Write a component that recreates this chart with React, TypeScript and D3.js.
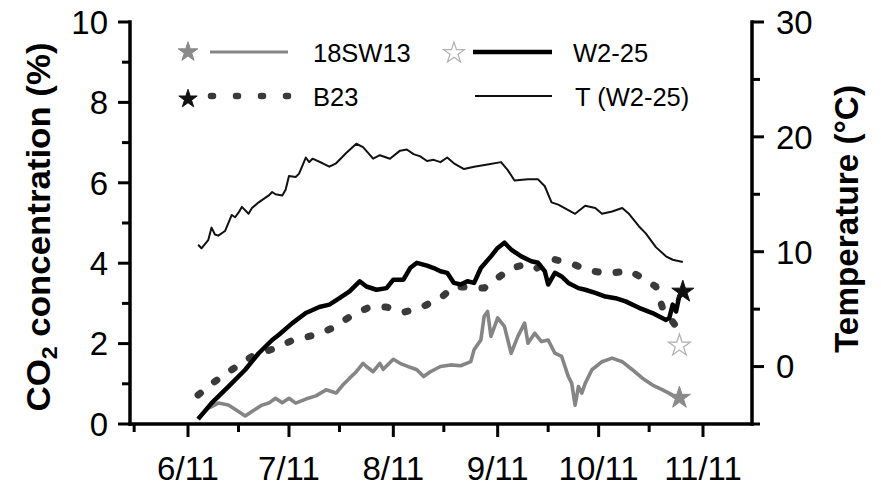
import React from 'react';
import * as d3 from 'd3';

// ---- axis ticks ----
const xTickDates = ['06-11', '07-11', '08-11', '09-11', '10-11', '11-11'];
const xTickLabels = ['6/11', '7/11', '8/11', '9/11', '10/11', '11/11'];
const xMinorDates = ['05-26', '06-26', '07-26', '08-26', '09-26', '10-26'];
const yLeftTicks = [0, 2, 4, 6, 8, 10];
const yLeftMinor = [1, 3, 5, 7, 9];
const yRightTicks = [0, 10, 20, 30];
const yRightMinor = [-5, 5, 15, 25];

// ---- series: 18SW13 (CO2 %) ----
const sw13Dates = ['06-14','06-17','06-20','06-23','06-26','06-28','06-30','07-03','07-05','07-07','07-09','07-11','07-13','07-16','07-19','07-22','07-25','07-27','07-29','07-31','08-02','08-03','08-05','08-07','08-08','08-11','08-13','08-16','08-18','08-20','08-22','08-25','08-28','08-31','09-03','09-04','09-06','09-07','09-08','09-09','09-11','09-13','09-15','09-17','09-19','09-20','09-22','09-24','09-26','09-28','09-30','10-02','10-03','10-04','10-05','10-06','10-07','10-09','10-12','10-15','10-18','10-21','10-24','10-27','10-30','11-02'];
const sw13Values = [0.14,0.39,0.52,0.47,0.31,0.2,0.31,0.47,0.52,0.64,0.53,0.64,0.52,0.62,0.7,0.85,0.77,0.97,1.14,1.3,1.51,1.43,1.3,1.51,1.36,1.61,1.51,1.41,1.35,1.18,1.3,1.43,1.47,1.45,1.55,1.85,2.09,2.68,2.8,2.18,2.64,2.43,1.76,2.18,2.51,2.01,2.26,2.05,2.09,1.76,1.68,1.18,1.01,0.47,0.93,0.77,1.01,1.35,1.55,1.64,1.55,1.35,1.14,0.97,0.85,0.72];

// ---- series: W2-25 (CO2 %) ----
const w225Dates = ['06-14','06-18','06-23','06-28','07-02','07-06','07-08','07-12','07-16','07-20','07-23','07-26','07-29','08-01','08-03','08-06','08-09','08-11','08-14','08-16','08-18','08-21','08-23','08-25','08-27','08-29','08-31','09-02','09-04','09-06','09-09','09-11','09-13','09-15','09-18','09-21','09-23','09-25','09-26','09-28','09-30','10-02','10-05','10-07','10-10','10-13','10-16','10-19','10-23','10-27','10-31','11-01','11-02','11-03','11-04'];
const w225Values = [0.12,0.52,0.93,1.35,1.76,2.09,2.22,2.51,2.76,2.91,2.97,3.13,3.3,3.55,3.42,3.34,3.38,3.59,3.59,3.88,4.01,3.94,3.88,3.8,3.76,3.51,3.47,3.55,3.51,3.88,4.17,4.38,4.51,4.34,4.17,4.05,4.01,3.8,3.47,3.76,3.67,3.51,3.38,3.34,3.26,3.17,3.13,3.05,2.89,2.76,2.59,2.64,2.97,2.8,3.2];

// ---- series: B23 (CO2 %) ----
const b23Dates = ['06-14','06-18','06-24','06-30','07-07','07-12','07-19','07-24','07-30','08-04','08-09','08-14','08-19','08-25','08-29','09-07','09-11','09-15','09-18','09-22','09-27','10-03','10-08','10-14','10-20','10-24','10-28','10-30','11-03'];
const b23Values = [0.72,1.0,1.35,1.68,1.89,2.08,2.22,2.39,2.72,2.91,2.91,2.78,2.89,3.13,3.42,3.38,3.63,3.88,3.94,3.84,4.11,3.99,3.82,3.74,3.82,3.63,3.42,2.88,2.43];

// ---- series: T (W2-25) (°C) ----
const tDates = ['06-14','06-15','06-17','06-18','06-19','06-20','06-22','06-24','06-25','06-26','06-27','06-29','06-30','07-02','07-05','07-06','07-07','07-09','07-10','07-11','07-13','07-14','07-15','07-16','07-17','07-18','07-21','07-23','07-25','07-28','07-31','08-02','08-05','08-07','08-10','08-13','08-15','08-17','08-19','08-21','08-23','08-25','08-27','08-29','09-01','09-04','09-08','09-12','09-14','09-16','09-20','09-23','09-25','09-27','09-29','10-04','10-07','10-10','10-12','10-15','10-18','10-20','10-23','10-25','10-28','10-31','11-02','11-05'];
const tValues = [10.6,10.3,11.0,12.1,11.5,11.4,11.8,13.2,13.0,13.4,13.9,13.3,13.8,14.3,14.9,15.2,15.0,14.9,15.4,16.6,16.5,16.8,17.5,18.2,17.8,18.1,17.7,17.4,17.7,18.6,19.4,19.1,18.1,18.4,18.1,18.8,18.9,18.5,18.3,17.9,18.0,17.8,18.2,17.7,17.2,17.4,17.6,17.8,17.1,16.2,16.3,16.3,15.7,14.3,14.1,13.3,14.0,13.8,13.3,13.5,13.8,13.3,12.2,11.6,10.4,9.6,9.3,9.1];

// ---- end-point stars ----
const starSeries = ['18SW13', 'W2-25', 'B23'];
const starDates = ['11-04', '11-04', '11-05'];
const starValues = [0.65, 1.95, 3.29];

const parse = (s: string) => d3.timeParse('%Y-%m-%d')('2011-' + s) as Date;
const zip = (ds: string[], vs: number[]) => ds.map((d, i) => [parse(d), vs[i]] as [Date, number]);

const FONT = '"Liberation Sans", Arial, Helvetica, sans-serif';

export default function App() {
  const W = 881, H = 486;
  const xL = 130, xR = 752, yB = 424, yT = 22;
  const x = d3.scaleTime().domain([parse('06-11'), parse('11-11')]).range([188, 703]);
  const yL = d3.scaleLinear().domain([0, 10]).range([yB, yT]);
  const yR = d3.scaleLinear().domain([-5, 30]).range([yB, yT]);

  const lineL = d3.line<[Date, number]>().x(d => x(d[0])).y(d => yL(d[1]));
  const lineR = d3.line<[Date, number]>().x(d => x(d[0])).y(d => yR(d[1]));

  const starPath = (size: number) => d3.symbol(d3.symbolStar, size)() as string;

  const starStyle: Record<string, any> = {
    '18SW13': { fill: '#8a8a8a', stroke: '#8a8a8a', strokeWidth: 1 },
    'W2-25': { fill: '#ffffff', stroke: '#b0b0b0', strokeWidth: 1.2 },
    'B23': { fill: '#111111', stroke: '#111111', strokeWidth: 1 },
  };

  const axisW = 3.5;

  return (
    <svg width={W} height={H} style={{ position: 'absolute', left: 0, top: 0, background: '#fff' }} fontFamily={FONT}>
      <rect x={0} y={0} width={W} height={H} fill="#fff" />

      {/* data lines */}
      <path d={lineR(zip(tDates, tValues)) as string} fill="none" stroke="#111" strokeWidth={2} strokeLinejoin="round" />
      <path d={lineL(zip(sw13Dates, sw13Values)) as string} fill="none" stroke="#858585" strokeWidth={3.6} strokeLinejoin="round" />
      <path d={lineL(zip(b23Dates, b23Values)) as string} fill="none" stroke="#3a3a3a" strokeWidth={7} strokeDasharray="3 18" strokeLinecap="round" strokeLinejoin="round" />
      <path d={lineL(zip(w225Dates, w225Values)) as string} fill="none" stroke="#000" strokeWidth={4.5} strokeLinejoin="round" />

      {/* stars */}
      {starSeries.map((s, i) => (
        <path key={s} d={starPath(150)} transform={`translate(${x(parse(starDates[i]))},${yL(starValues[i])})`} {...starStyle[s]} />
      ))}

      {/* axes lines */}
      <line x1={xL} x2={xL} y1={yT} y2={yB} stroke="#000" strokeWidth={axisW} strokeLinecap="square" />
      <line x1={xR} x2={xR} y1={yT} y2={yB} stroke="#000" strokeWidth={axisW} strokeLinecap="square" />
      <line x1={xL} x2={xR} y1={yB} y2={yB} stroke="#000" strokeWidth={axisW} strokeLinecap="square" />

      {/* left ticks */}
      {yLeftTicks.map(v => (
        <g key={'l' + v}>
          <line x1={xL - 12} x2={xL} y1={yL(v)} y2={yL(v)} stroke="#000" strokeWidth={3} />
          <text x={108} y={yL(v)} dy="0.36em" textAnchor="end" fontSize={33}>{v}</text>
        </g>
      ))}
      {yLeftMinor.map(v => (
        <line key={'lm' + v} x1={xL - 8} x2={xL} y1={yL(v)} y2={yL(v)} stroke="#000" strokeWidth={3} />
      ))}

      {/* right ticks */}
      {yRightTicks.map(v => (
        <g key={'r' + v}>
          <line x1={xR} x2={xR + 12} y1={yR(v)} y2={yR(v)} stroke="#000" strokeWidth={3} />
          <text x={776} y={yR(v)} dy="0.36em" textAnchor="start" fontSize={33}>{v}</text>
        </g>
      ))}
      {yRightMinor.map(v => (
        <line key={'rm' + v} x1={xR} x2={xR + 8} y1={yR(v)} y2={yR(v)} stroke="#000" strokeWidth={3} />
      ))}

      {/* bottom ticks */}
      {xTickDates.map((d, i) => (
        <g key={'b' + d}>
          <line x1={x(parse(d))} x2={x(parse(d))} y1={yB} y2={yB + 13} stroke="#000" strokeWidth={3} />
          <text x={x(parse(d))} y={480} textAnchor="middle" fontSize={33}>{xTickLabels[i]}</text>
        </g>
      ))}
      {xMinorDates.map(d => (
        <line key={'bm' + d} x1={x(parse(d))} x2={x(parse(d))} y1={yB} y2={yB + 8} stroke="#000" strokeWidth={3} />
      ))}

      {/* axis titles */}
      <text transform={`translate(50,227) rotate(-90)`} textAnchor="middle" fontSize={33} fontWeight="bold" textLength={369} lengthAdjust="spacingAndGlyphs">
        CO<tspan fontSize={22} dy={7}>2</tspan><tspan dy={-7}> concentration (%)</tspan>
      </text>
      <text transform={`translate(858,219) rotate(-90)`} textAnchor="middle" fontSize={33} fontWeight="bold" textLength={268} lengthAdjust="spacingAndGlyphs">
        Temperature (°C)
      </text>

      {/* legend */}
      <g>
        <path d={starPath(120)} transform="translate(188,52)" {...starStyle['18SW13']} />
        <line x1={210} x2={288} y1={52} y2={52} stroke="#858585" strokeWidth={3.2} />
        <text x={313} y={62} fontSize={25.5}>18SW13</text>

        <path d={starPath(135)} transform="translate(454,53)" {...starStyle['W2-25']} />
        <line x1={473} x2={552} y1={52} y2={52} stroke="#000" strokeWidth={4.5} />
        <text x={573} y={62} fontSize={25.5}>W2-25</text>

        <path d={starPath(105)} transform="translate(188,99)" {...starStyle['B23']} />
        <line x1={211} x2={290} y1={96} y2={96} stroke="#3a3a3a" strokeWidth={6.5} strokeDasharray="2 23" strokeLinecap="round" />
        <text x={313} y={106} fontSize={25.5}>B23</text>

        <line x1={475} x2={552} y1={96} y2={96} stroke="#111" strokeWidth={2} />
        <text x={575} y={106} fontSize={25.5}>T (W2-25)</text>
      </g>
    </svg>
  );
}
